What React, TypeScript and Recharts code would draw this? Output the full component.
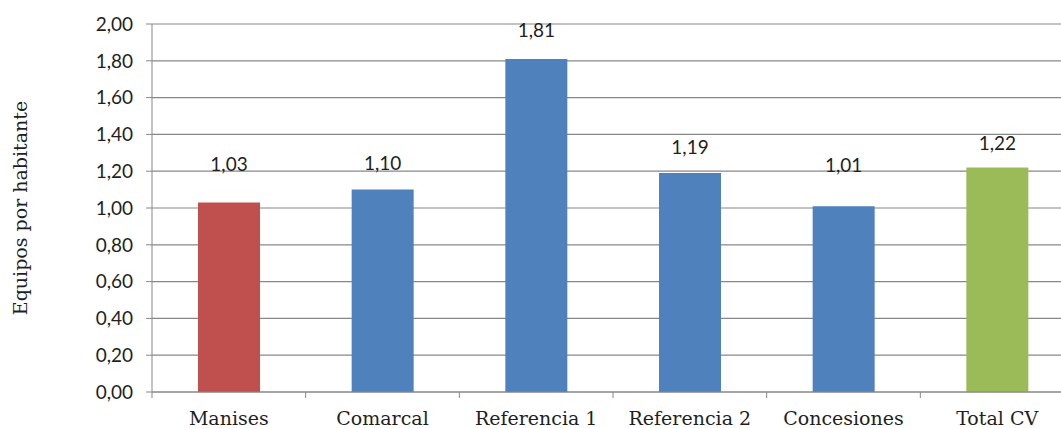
import React from "react";
import { BarChart, Bar, XAxis, YAxis, CartesianGrid, Cell, LabelList, Label } from "recharts";

// Equipment per inhabitant by area
const categories = ["Manises", "Comarcal", "Referencia 1", "Referencia 2", "Concesiones", "Total CV"];
const values = [1.03, 1.1, 1.81, 1.19, 1.01, 1.22];
const barColors = ["#C0504D", "#4F81BD", "#4F81BD", "#4F81BD", "#4F81BD", "#9BBB59"];
const yTicks = [0, 0.2, 0.4, 0.6, 0.8, 1.0, 1.2, 1.4, 1.6, 1.8, 2.0];
const yAxisTitle = "Equipos por habitante";

// vertical distance of each value label above its bar top
const labelLift = [39, 27, 29, 27, 42, 25];

const data = categories.map((name, i) => ({ name, value: values[i] }));

const fmt = (v: number) => v.toFixed(2).replace(".", ",");

const CHART_W = 1080;
const CHART_H = 428;
const MARGIN = { top: 24, right: 6, left: 0, bottom: 0 };
const Y_AXIS_W = 152;
const X_AXIS_H = 36;
const PLOT_W = CHART_W - MARGIN.left - MARGIN.right - Y_AXIS_W;
const HALF_BAND = PLOT_W / categories.length / 2;
const PLOT_BOTTOM = CHART_H - MARGIN.bottom - X_AXIS_H;

const GRID = "#878787";
const NUM_FONT = "Lato, 'Open Sans', sans-serif";
const TEXT_FONT = "'DejaVu Serif', serif";

const CategoryTick = (props: any) => {
  const { x, payload, index } = props;
  return (
    <g>
      <line x1={x - HALF_BAND} x2={x - HALF_BAND} y1={PLOT_BOTTOM} y2={PLOT_BOTTOM + 6} stroke={GRID} />
      {index === categories.length - 1 && (
        <line x1={x + HALF_BAND} x2={x + HALF_BAND} y1={PLOT_BOTTOM} y2={PLOT_BOTTOM + 6} stroke={GRID} />
      )}
      <text x={x} y={PLOT_BOTTOM + 33} textAnchor="middle" fontFamily={TEXT_FONT} fontSize={19} fill="#1f1f1f">
        {payload.value}
      </text>
    </g>
  );
};

const ValueLabel = (props: any) => {
  const { x, y, width, value, index } = props;
  return (
    <text
      x={x + width / 2}
      y={y - labelLift[index]}
      textAnchor="middle"
      dominantBaseline="central"
      fontFamily={NUM_FONT}
      fontSize={19}
      fill="#1f1f1f"
    >
      {fmt(value)}
    </text>
  );
};

export default function App() {
  return (
    <div style={{ position: "absolute", left: 0, top: 0, width: 1061, height: 428, overflow: "hidden", background: "#fff" }}>
      <BarChart width={CHART_W} height={CHART_H} data={data} margin={MARGIN}>
        <CartesianGrid horizontal vertical={false} stroke={GRID} strokeWidth={1.2} />
        <XAxis
          dataKey="name"
          height={X_AXIS_H}
          stroke={GRID}
          tickLine={false}
          interval={0}
          tick={<CategoryTick />}
        />
        <YAxis
          width={Y_AXIS_W}
          domain={[0, 2]}
          ticks={yTicks}
          interval={0}
          tickFormatter={fmt}
          stroke={GRID}
          tickSize={6}
          tickMargin={13}
          tick={{ fontFamily: NUM_FONT, fontSize: 19, fill: "#1f1f1f" }}
        >
          <Label
            content={(p: any) => {
              const vb = p.viewBox;
              const cx = 20;
              const cy = vb.y + vb.height / 2;
              return (
                <text
                  x={cx}
                  y={cy}
                  transform={`rotate(-90 ${cx} ${cy})`}
                  textAnchor="middle"
                  dominantBaseline="central"
                  fontFamily={TEXT_FONT}
                  fontSize={19}
                  fill="#1f1f1f"
                >
                  {yAxisTitle}
                </text>
              );
            }}
          />
        </YAxis>
        <Bar dataKey="value" barSize={62} isAnimationActive={false}>
          {data.map((d, i) => (
            <Cell key={d.name} fill={barColors[i]} />
          ))}
          <LabelList dataKey="value" content={<ValueLabel />} />
        </Bar>
      </BarChart>
    </div>
  );
}
